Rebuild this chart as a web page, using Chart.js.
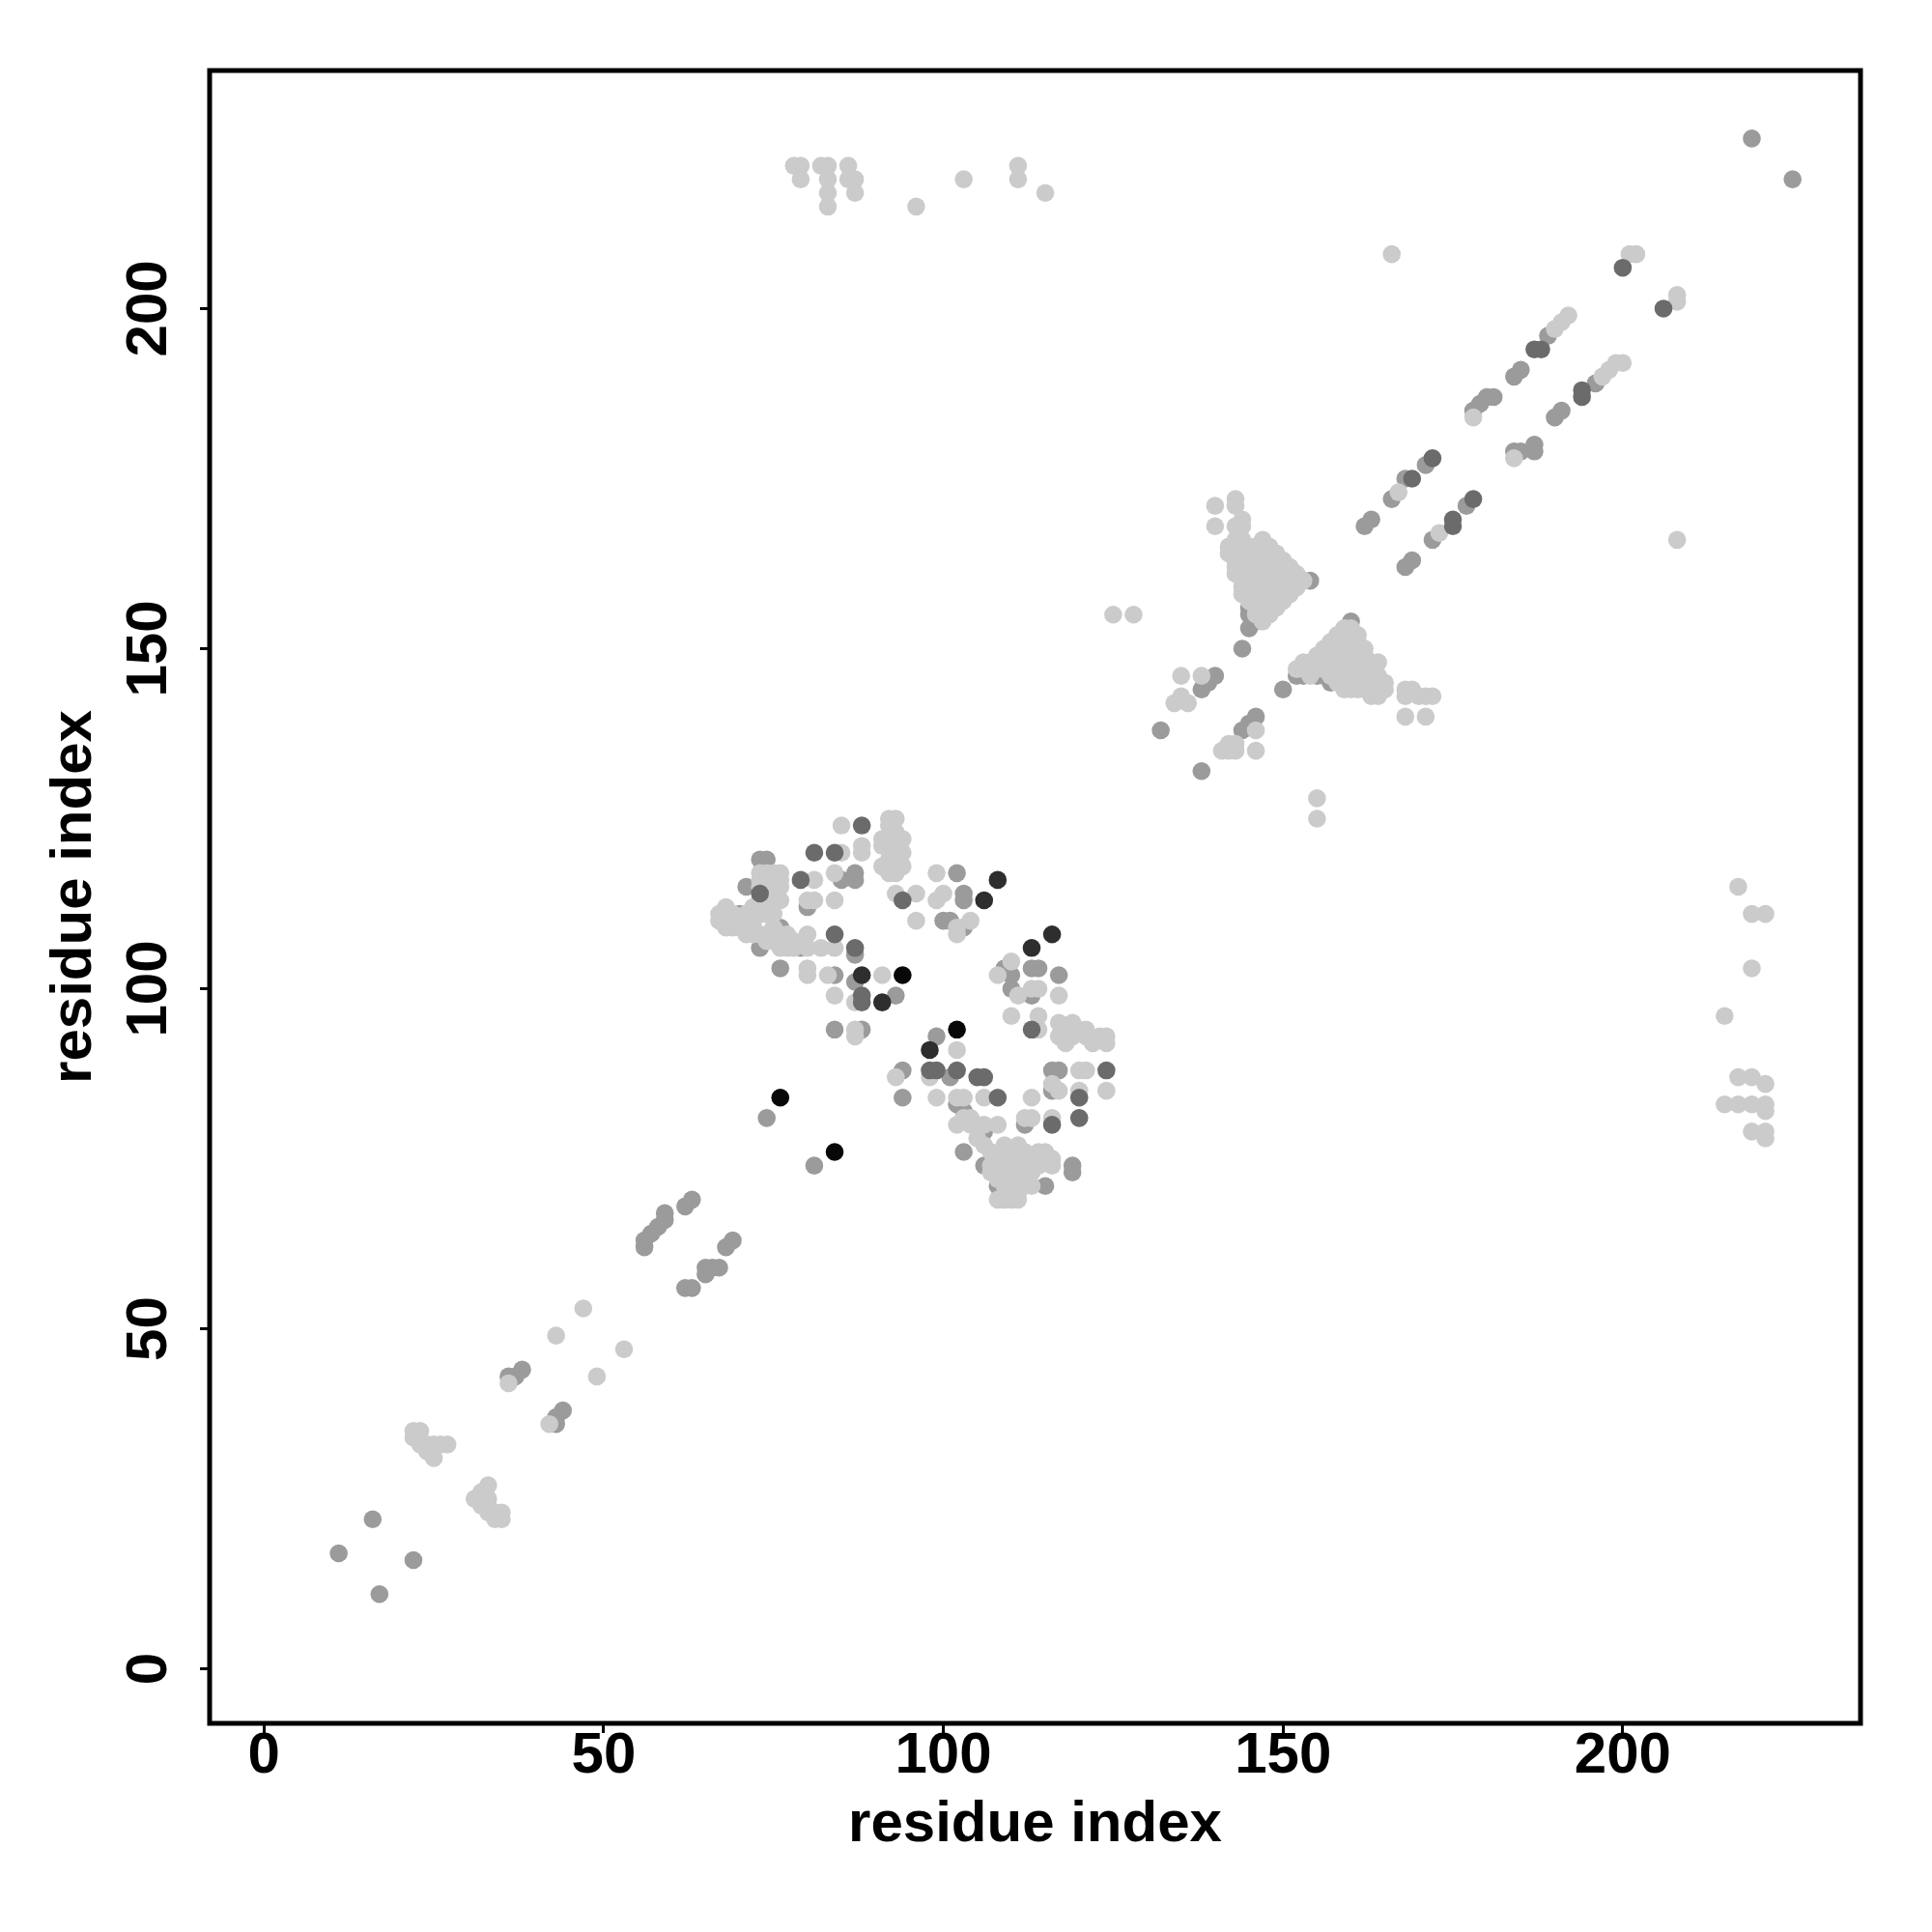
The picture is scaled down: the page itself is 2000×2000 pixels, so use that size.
<!DOCTYPE html>
<html>
<head>
<meta charset="utf-8">
<title>residue contact map</title>
<script src="https://cdn.jsdelivr.net/npm/chart.js@4.4.1/dist/chart.umd.min.js"></script>
<style>
  html, body { margin: 0; padding: 0; background: #ffffff; }
  canvas { display: block; }
</style>
</head>
<body>
<canvas id="myChart" width="2000" height="2000"></canvas>
<script>
'use strict';

// ********** DOM WINDOWS **********

let displayChart = document.querySelector('#myChart');


// ********** GLOBAL VARIABLES **********

// axis
const axisMin = -8;
const axisMax = 235;
const tickValues = [0, 50, 100, 150, 200];
const axisTitle = 'residue index';

// contacts [residue i, residue j], grouped by grey level
const contactsBlack = [
  [94,102],[102,94],[76,84],[84,76]
];

const contactsDarker = [
  [106,113],[108,116],[116,108],[113,106],[88,102],[91,98],[98,91]
];

const contactsDark = [
  [88,124],[81,120],[84,120],[79,116],[94,113],[84,108],[87,106],[88,99],[88,98],
  [113,94],[98,88],[99,88],[102,88],[105,87],[106,87],[108,84],[124,88],[120,84],
  [120,81],[116,80],[73,114],
  [172,178],[169,175],[188,194],[187,194],[178,172],[175,169],[175,168],[194,188],
  [194,187],[200,206],[206,200]
];

const contactsLight = [
  [22,35],[23,35],[22,34],[23,33],[24,32],[25,31],[25,33],[26,33],[27,33],[24,33],
  [33,27],[32,26],[31,25],[32,24],[33,25],[33,24],[34,23],[35,23],[34,22],[35,22],[33,23],
  [36,42],[43,49],[47,53],[53,47],[49,43],[42,36],
  [85,124],[92,125],[93,125],[92,124],[93,123],[85,120],[88,121],[88,120],[91,122],[92,122],
  [93,122],[94,122],[91,121],[92,121],[93,121],[94,120],[92,119],[93,119],[94,118],[91,118],
  [92,117],[93,117],
  [73,116],[75,116],[76,116],[81,116],[84,117],[80,113],[81,113],[84,113],[93,114],[96,114],
  [99,117],[100,114],[99,113],[96,110],[102,109],[102,108],[104,110],
  [68,112],[69,111],[71,110],[72,110],[73,111],[74,111],[75,111],[68,110],[69,109],[70,109],
  [71,109],[72,109],[73,108],[74,108],[75,109],[72,112],[73,113],[74,113],[75,113],[76,113],
  [74,114],[75,115],[73,117],[74,117],[75,117],[76,117],[73,115],[74,115],[76,115],[75,114],
  [67,110],[67,111],[68,109],[68,111],[69,110],[71,108],[72,108],[71,111],[72,111],
  [74,107],[75,107],[76,107],[77,107],[76,108],[77,108],[78,106],[78,107],
  [80,108],[76,106],[77,106],[80,106],[82,106],[84,106],[80,103],[80,102],[83,102],[91,102],
  [84,99],[87,98],[87,94],[87,93],
  [110,104],[108,102],[111,99],[113,100],[114,100],[117,99],[110,96],[114,96],[114,94],[117,95],
  [118,94],[119,95],[120,94],[121,94],[117,93],[119,93],[121,93],[124,93],[124,92],[123,93],
  [122,92],[118,92],
  [102,91],[93,87],[98,87],[99,84],[102,84],[103,84],[106,84],[102,80],[104,80],[106,80],
  [103,81],[104,81],[105,80],[108,80],
  [113,84],[120,88],[121,88],[116,86],[117,85],[120,85],[124,85],[116,81],[112,81],[113,81],
  [116,75],[116,74],
  [105,78],[106,77],[107,76],[108,75],[109,74],[110,73],[111,72],[112,72],[108,72],[109,71],
  [110,70],[111,70],[112,71],[113,73],[113,75],[114,76],[115,76],[115,75],[110,76],
  [111,77],[112,76],[109,77],[107,73],[108,74],[111,74],[112,74],[110,75],[113,71],[109,72],
  [107,74],[109,69],[110,69],[111,69],[108,69],[114,74],
  [140,171],[143,172],[143,171],[144,169],[143,168],[140,168],[144,168],
  [143,166],[144,166],[147,166],
  [142,165],[143,165],[144,165],[145,165],[146,165],[147,165],[148,165],
  [142,164],[143,164],[144,164],[145,164],[146,164],[147,164],[148,164],[149,164],
  [143,163],[144,163],[145,163],[146,163],[147,163],[148,163],[149,163],[150,163],
  [143,162],[144,162],[145,162],[146,162],[147,162],[148,162],[149,162],[150,162],[151,162],
  [143,161],[144,161],[145,161],[146,161],[147,161],[148,161],[149,161],[150,161],[151,161],[152,161],
  [144,160],[145,160],[146,160],[147,160],[148,160],[149,160],[150,160],[151,160],[152,160],[153,160],
  [144,159],[145,159],[146,159],[147,159],[148,159],[149,159],[150,159],[151,159],[152,159],
  [144,158],[145,158],[146,158],[147,158],[148,158],[149,158],[150,158],[151,158],
  [145,157],[146,157],[147,157],[148,157],[149,157],[150,157],
  [146,156],[147,156],[148,156],[149,156],
  [146,155],[147,155],[148,155],
  [147,154],
  [159,153],[160,153],
  [158,152],[159,152],[160,152],[161,152],
  [157,151],[158,151],[159,151],[160,151],[161,151],
  [156,150],[157,150],[158,150],[159,150],[160,150],[161,150],[162,150],
  [155,149],[156,149],[157,149],[158,149],[159,149],[160,149],[161,149],[162,149],
  [153,148],[154,148],[155,148],[156,148],[157,148],[158,148],[159,148],[160,148],[161,148],[162,148],[163,148],[164,148],
  [152,147],[153,147],[154,147],[155,147],[156,147],[157,147],[158,147],[159,147],[160,147],[161,147],[162,147],[163,147],
  [154,146],[157,146],[158,146],[159,146],[160,146],[161,146],[162,146],[163,146],[164,146],
  [158,145],[159,145],[160,145],[161,145],[162,145],[163,145],[164,145],[165,145],
  [159,144],[160,144],[161,144],[162,144],[163,144],[164,144],[165,144],
  [163,143],[164,143],
  [168,144],[169,144],[168,143],[170,143],[171,143],[172,143],[168,140],[171,140],
  [135,146],[138,146],[135,143],[136,142],[134,142],[146,138],[142,136],[143,136],[142,135],
  [141,135],[143,135],[146,135],[155,128],[155,125],[125,155],[128,155],
  [167,173],[178,184],[190,197],[191,198],[192,199],[173,167],[184,178],[197,190],[198,191],
  [199,192],[200,192],[201,208],[202,208],[208,202],[208,201],[166,208],[208,166],
  [78,221],[79,221],[79,219],[82,221],[83,221],[83,219],[83,217],[83,215],[86,221],[86,219],
  [87,219],[87,217],[96,215],[103,219],[111,221],[111,219],[115,217],
  [217,115],[219,111],[221,111],[219,103],[215,96],[217,87],[219,87],[221,86],[215,83],
  [217,83],[219,83],[221,83],[221,82],[219,79],[221,79],[221,78]
];

const contactsMedium = [
  [11,17],[16,22],[17,11],[22,16],
  [36,43],[37,43],[38,44],[44,38],[43,37],[43,36],
  [56,62],[56,63],[57,64],[58,65],[59,66],[59,67],[62,68],[63,69],[68,62],[69,63],
  [62,56],[63,56],[65,59],[66,59],[67,59],[65,58],
  [73,119],[74,119],[71,115],[85,116],[87,117],[87,116],[80,112],[102,117],[103,114],[103,113],
  [100,110],[101,110],[103,109],[70,111],[76,109],[73,106],[79,106],[87,105],[76,103],[84,102],
  [87,101],[93,99],[84,94],[88,94],[109,103],[113,103],[114,103],[117,102],[110,102],[110,100],
  [113,99],[99,93],[94,88],[101,87],[94,84],[102,83],[103,82],[103,76],[106,79],[106,74],
  [109,76],[116,88],[117,88],[112,80],[119,74],[119,73],[115,71],[74,81],[81,74],[108,71],
  [110,72],[112,73],[116,85],
  [154,160],[145,156],[145,155],[146,154],[145,153],[144,150],[160,154],[152,146],[153,146],
  [155,146],[156,146],[157,145],[150,144],[140,146],[139,145],[138,144],[132,138],[146,140],
  [145,139],[144,138],[138,132],
  [171,177],[168,175],[166,172],[163,169],[162,168],[178,185],[179,186],[180,187],[181,187],
  [184,190],[185,191],[189,196],[177,171],[172,166],[184,179],[185,179],[187,180],[187,179],
  [190,184],[191,185],[196,189],[168,162],[169,163],
  [219,225],[225,219]
];

// grey levels, same order as the groups
const greyLevels = ['#080808', '#2e2e2e', '#6b6b6b', '#cbcbcb', '#9b9b9b'];

const fontMain = { family: "'Liberation Sans', Arial, sans-serif", size: 60, weight: 'bold' };


// ********** HELPER FUNCTIONS **********

function toPoints(pairs) {
  return pairs.map(p => ({ x: p[0], y: p[1] }));
}

function makeDataset(pairs, colour) {
  return {
    data: toPoints(pairs),
    backgroundColor: colour,
    borderWidth: 0,
    pointRadius: 9.3,
    pointHoverRadius: 9.3
  };
}

function fixTicks(scale) {
  scale.ticks = tickValues.map(v => ({ value: v }));
}

// frame round the plot and the upright y labels
const frameAndLabels = {
  id: 'frameAndLabels',
  afterDraw(chart) {
    let ctx = chart.ctx;
    let area = chart.chartArea;
    let yScale = chart.scales.y;

    ctx.save();
    ctx.strokeStyle = '#000000';
    ctx.lineWidth = 5;
    ctx.strokeRect(area.left, area.top, area.right - area.left, area.bottom - area.top);

    ctx.fillStyle = '#000000';
    ctx.font = 'bold 60px "Liberation Sans", Arial, sans-serif';
    ctx.textAlign = 'center';
    ctx.textBaseline = 'alphabetic';
    for (let i = 0; i < tickValues.length; i++) {
      let py = yScale.getPixelForValue(tickValues[i]);
      ctx.save();
      ctx.translate(area.left - 45, py);
      ctx.rotate(-Math.PI / 2);
      ctx.fillText(String(tickValues[i]), 0, 0);
      ctx.restore();
    }
    ctx.restore();
  }
};

// render chart
function renderChart() {
  let groups = [contactsBlack, contactsDarker, contactsDark, contactsLight, contactsMedium];
  let datasets = [];
  for (let i = 0; i < groups.length; i++) {
    datasets.push(makeDataset(groups[i], greyLevels[i]));
  }

  let chartData = {
    type: 'scatter',
    data: { datasets: datasets },
    options: {
      responsive: false,
      animation: false,
      layout: { padding: { left: 0, right: 74, top: 73, bottom: 0 } },
      plugins: { legend: { display: false }, tooltip: { enabled: false } },
      scales: {
        x: {
          type: 'linear',
          min: axisMin,
          max: axisMax,
          afterBuildTicks: fixTicks,
          afterFit: s => { s.height = 216; },
          border: { display: false },
          grid: { drawOnChartArea: false, drawTicks: true, tickLength: 10, tickWidth: 3, tickColor: '#000000' },
          ticks: { color: '#000000', font: fontMain, padding: -12, maxRotation: 0, autoSkip: false },
          title: { display: true, text: axisTitle, color: '#000000', font: fontMain, padding: 75 }
        },
        y: {
          type: 'linear',
          min: axisMin,
          max: axisMax,
          afterBuildTicks: fixTicks,
          afterFit: s => { s.width = 217; },
          border: { display: false },
          grid: { drawOnChartArea: false, drawTicks: true, tickLength: 10, tickWidth: 3, tickColor: '#000000' },
          ticks: { color: 'rgba(0,0,0,0)', font: fontMain, autoSkip: false },
          title: { display: true, text: axisTitle, color: '#000000', font: fontMain, padding: 41 }
        }
      }
    },
    plugins: [frameAndLabels]
  };

  new Chart(displayChart, chartData);
}


// ********** EXECUTABLE **********
renderChart();
</script>
</body>
</html>
